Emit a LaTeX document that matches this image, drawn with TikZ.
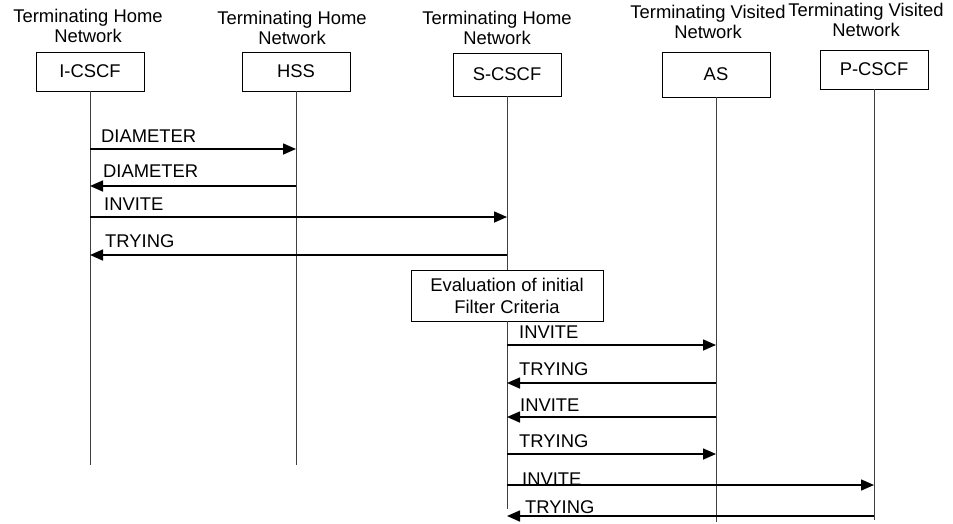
\documentclass[tikz,border=0pt]{standalone}
\usepackage{fontspec}
\setmainfont{Liberation Sans}
\usetikzlibrary{arrows.meta}
\begin{document}
\begin{tikzpicture}[x=1pt,y=-1pt,
	every node/.style={font=\fontsize{18.4}{20}\selectfont},
	entity/.style={draw,black,line width=0.8pt,minimum width=108pt,minimum height=39pt,inner sep=0pt},
	netlabel/.style={align=center,inner sep=0pt,anchor=south},
	lifeline/.style={draw=black!75,line width=1pt},
	msg/.style={black,line width=1.6pt,-{Triangle[length=13pt,width=11pt]}},
	msglabel/.style={anchor=base west,inner sep=0pt}]
	\useasboundingbox (0,0) rectangle (953,523);
	% entities
	\node[entity](icscf) at (90,71.5){I-CSCF};
	\node[entity](hss) at (296,71.5){HSS};
	\node[entity,minimum height=43pt](scscf) at (507,74.5){S-CSCF};
	\node[entity,minimum height=45pt](as) at (716,74.5){AS};
	\node[entity](pcscf) at (874,69.5){P-CSCF};
	\node[netlabel](icscfnet) at (88,43){Terminating Home\\Network};
	\node[netlabel](hssnet) at (292,44.5){Terminating Home\\Network};
	\node[netlabel](scscfnet) at (497,44.5){Terminating Home\\Network};
	\node[netlabel](asnet) at (708,39){Terminating Visited\\Network};
	\node[netlabel](pcscfnet) at (866,37){Terminating Visited\\Network};
	% lifelines
	\coordinate(icscfend) at (90,465);
	\coordinate(hssend) at (296,465);
	\coordinate(scscfend) at (507,509);
	\coordinate(asend) at (716,522);
	\coordinate(pcscfend) at (874,520);
	\node[draw,black,line width=0.8pt,minimum width=192pt,minimum height=51pt,align=center,inner sep=0pt,font=\fontsize{18.4}{22}\selectfont](ifc) at (507,295.5){Evaluation of initial\\Filter Criteria};
	\draw[lifeline](icscf)--(icscfend);
	\draw[lifeline](hss)--(hssend);
	\draw[lifeline](scscf)--(ifc);
	\draw[lifeline](ifc)--(scscfend);
	\draw[lifeline](as)--(asend);
	\draw[lifeline](pcscf)--(pcscfend);
	% messages
	\draw[msg](icscf |- 0,149)--(hss |- 0,149);
	\node[msglabel](dia1) at (101,142){DIAMETER};
	\draw[msg](hss |- 0,186)--(icscf |- 0,186);
	\node[msglabel](dia2) at (103,177){DIAMETER};
	\draw[msg](icscf |- 0,217)--(scscf |- 0,217);
	\node[msglabel](inv1) at (104,210){INVITE};
	\draw[msg](scscf |- 0,255)--(icscf |- 0,255);
	\node[msglabel](try1) at (105,247){TRYING};
	\draw[msg](scscf |- 0,345)--(as |- 0,345);
	\node[msglabel](inv2) at (519,338){INVITE};
	\draw[msg](as |- 0,383)--(scscf |- 0,383);
	\node[msglabel](try2) at (519,375){TRYING};
	\draw[msg](as |- 0,417)--(scscf |- 0,417);
	\node[msglabel](inv3) at (520,411){INVITE};
	\draw[msg](scscf |- 0,454)--(as |- 0,454);
	\node[msglabel](try3) at (519,447){TRYING};
	\draw[msg](scscf |- 0,485)--(pcscf |- 0,485);
	\node[msglabel](inv4) at (522,485){INVITE};
	\draw[msg](pcscf |- 0,516)--(scscf |- 0,516);
	\node[msglabel](try4) at (525,513){TRYING};
\end{tikzpicture}
\end{document}
